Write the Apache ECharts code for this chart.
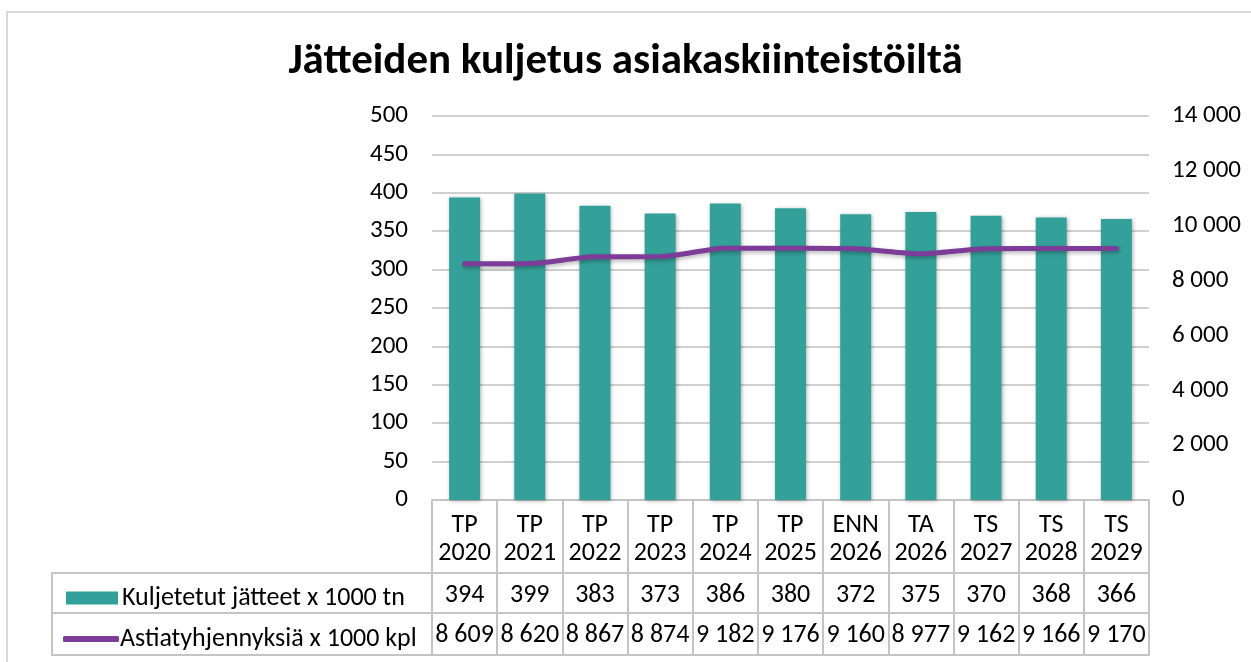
<!DOCTYPE html>
<html><head><meta charset="utf-8">
<script src="https://cdn.jsdelivr.net/npm/echarts@6/dist/echarts.min.js"></script>
<style>html,body{margin:0;padding:0;background:#fff}#c{width:1251px;height:662px}</style>
</head><body><div id="c"></div>
<script>
var categories = ['TP 2020','TP 2021','TP 2022','TP 2023','TP 2024','TP 2025','ENN 2026','TA 2026','TS 2027','TS 2028','TS 2029'];
var jatteet = [394,399,383,373,386,380,372,375,370,368,366];
var tyhjennykset = [8609,8620,8867,8874,9182,9176,9160,8977,9162,9166,9170];
var leftTicks = {min:0, max:500, interval:50};
var rightTicks = {min:0, max:14000, interval:2000};
var nameBar = 'Kuljetetut jätteet x 1000 tn';
var nameLine = 'Astiatyhjennyksiä x 1000 kpl';
var titleText = 'Jätteiden kuljetus asiakaskiinteistöiltä';

var FONT = 'Carlito, Calibri, "Liberation Sans", sans-serif';
var GRAY = '#c4c4c4';
var FS = 26;
function sp(v){ return String(v).replace(/\B(?=(\d{3})+(?!\d))/g,' '); }

var chart = echarts.init(document.getElementById('c'), null, {renderer:'canvas'});
var gL = 432, gR = 1149, gT = 116, gB = 500;
var tableAxis = function(data, offset, tickLen, margin){
  return {
    type:'category', gridIndex:0, position:'bottom', offset:offset, data:data,
    axisLine:{show:true, onZero:false, lineStyle:{color:GRAY, width:2}},
    axisTick:{show:true, length:tickLen, interval:0, lineStyle:{color:GRAY, width:2}},
    axisLabel:{interval:0, margin:margin, fontSize:FS, lineHeight:28, color:'#000', fontFamily:FONT},
    splitLine:{show:false}
  };
};
chart.setOption({
  animation:false,
  title:{text:titleText, left:'center', top:36, textStyle:{fontSize:43, fontWeight:'bold', color:'#000', fontFamily:FONT}},
  legend:[
    {data:[{name:nameBar, icon:'rect'}], left:61, top:580, itemWidth:52, itemHeight:13, itemGap:0,
     textStyle:{fontSize:FS, color:'#000', fontFamily:FONT, padding:[0,0,0,-1]}, selectedMode:false},
    {data:[{name:nameLine, icon:'roundRect'}], left:58, top:621, itemWidth:56, itemHeight:6, itemGap:0,
     textStyle:{fontSize:FS, color:'#000', fontFamily:FONT, padding:[0,0,0,-4]}, selectedMode:false}
  ],
  grid:{left:gL, right:1251-gR, top:gT, bottom:662-gB, containLabel:false},
  xAxis:[
    {type:'category', data:categories,
     axisLine:{show:true, onZero:false, lineStyle:{color:GRAY, width:2}},
     axisTick:{show:true, length:73, interval:0, lineStyle:{color:GRAY, width:2}},
     axisLabel:{interval:0, margin:11, fontSize:FS, lineHeight:28, color:'#000', fontFamily:FONT,
       formatter:function(v){return v.replace(' ','\n');}}},
    tableAxis(jatteet.map(String), 73, 40, 8),
    tableAxis(tyhjennykset.map(sp), 113, 42, 8)
  ],
  yAxis:[
    {type:'value', min:leftTicks.min, max:leftTicks.max, interval:leftTicks.interval,
     axisLine:{show:false}, axisTick:{show:false},
     axisLabel:{margin:24, fontSize:25, color:'#000', fontFamily:FONT},
     splitLine:{lineStyle:{color:'#d0d0d0', width:2}}},
    {type:'value', min:rightTicks.min, max:rightTicks.max, interval:rightTicks.interval,
     axisLine:{show:false}, axisTick:{show:false}, splitLine:{show:false},
     axisLabel:{margin:23, fontSize:25, color:'#000', fontFamily:FONT, formatter:sp}}
  ],
  series:[
    {name:nameBar, type:'bar', data:jatteet, xAxisIndex:0, yAxisIndex:0, barWidth:31,
     itemStyle:{color:'#33a19a', shadowColor:'rgba(0,0,0,0.3)', shadowBlur:4, shadowOffsetX:1, shadowOffsetY:1}},
    {name:nameLine, type:'line', data:tyhjennykset, xAxisIndex:0, yAxisIndex:1, symbol:'none', smooth:0.25,
     lineStyle:{color:'#7d3c98', width:5, cap:'round', shadowColor:'rgba(0,0,0,0.3)', shadowBlur:4, shadowOffsetX:1, shadowOffsetY:2},
     itemStyle:{color:'#7d3c98'}}
  ],
  graphic:[
    {type:'rect', shape:{x:7, y:12, width:1400, height:800}, style:{fill:null, stroke:'#d9d9d9', lineWidth:2}, silent:true},
    {type:'line', shape:{x1:52, y1:573, x2:gR+1, y2:573}, style:{stroke:GRAY, lineWidth:2}},
    {type:'line', shape:{x1:52, y1:613, x2:gR+1, y2:613}, style:{stroke:GRAY, lineWidth:2}},
    {type:'line', shape:{x1:52, y1:655, x2:gR+1, y2:655}, style:{stroke:GRAY, lineWidth:2}},
    {type:'line', shape:{x1:52, y1:572, x2:52, y2:656}, style:{stroke:GRAY, lineWidth:2}}
  ]
});
</script></body></html>
